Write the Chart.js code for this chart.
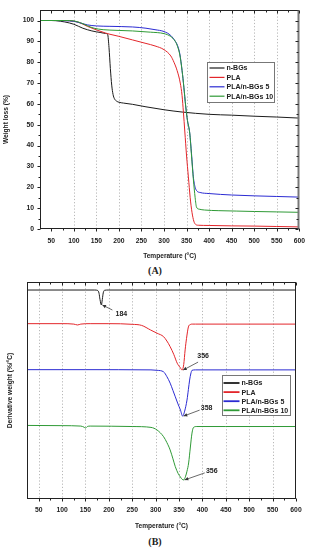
<!DOCTYPE html>
<html><head><meta charset="utf-8">
<script src="https://cdn.jsdelivr.net/npm/chart.js@4/dist/chart.umd.min.js"></script>
<style>
body{margin:0;width:313px;height:550px;background:#fff;position:relative;overflow:hidden}
canvas{position:absolute;left:0}
#ca{top:0}
#cb{top:275px}
.cap{position:absolute;left:0;width:310px;text-align:center;font:bold 10px "Liberation Serif","Times New Roman",serif;color:#222}
</style></head><body>
<canvas id="ca" width="313" height="262"></canvas>
<div class="cap" style="top:265px">(A)</div>
<canvas id="cb" width="313" height="260"></canvas>
<div class="cap" style="top:536px">(B)</div>
<script>
// ---------- data ----------
const xTickLabels = [50,100,150,200,250,300,350,400,450,500,550,600];
const tgaYTicks = [0,10,20,30,40,50,60,70,80,90,100];
const seriesNames = ['n-BGs','PLA','PLA/n-BGs 5','PLA/n-BGs 10'];
const seriesColors = ['#1c1c1c','#e3262b','#2b2bd2','#2f9a36'];

// TGA (A): temperature (°C) and weight (%)
const tgaT_nBGs = [25,50,60,80,100,120,140,160,170,175,178,181,184,187,190,195,200,210,230,260,300,340,400,450,500,550,600];
const tgaW_nBGs = [100,100,99.9,99.3,98.2,96.3,95,94.2,93.8,93.3,87,77,69,64.5,62.5,61.3,60.8,60.4,59.8,58.6,57.2,56.1,55,54.6,54.1,53.7,53.2];
const tgaT_PLA = [25,60,90,110,130,150,170,180,200,230,260,280,300,315,322,329,336,340,343,346,350,354,358,362,366,370,376,400,450,500,550,600];
const tgaW_PLA = [100,100,99.9,99.2,97.2,95.5,94,93.4,92.4,90.7,89,87.8,86,83,80,76,70,64,56,47,35,25,15,8,3.8,2.2,1.8,1.7,1.5,1.4,1.2,1.0];
const tgaT_PLA5 = [25,60,80,100,115,130,150,180,230,260,280,300,315,325,330,335,340,344,348,352,357,361,365,369,373,380,400,450,500,550,600];
const tgaW_PLA5 = [100,100,99.9,99.6,98.8,97.9,97.4,97.2,96.9,96.3,95.6,94.7,92.8,90,88,84,76,68,59,52,46,36,25,20,18.2,17.5,17,16.3,15.9,15.6,15.3];
const tgaT_PLA10 = [25,80,100,115,130,145,165,180,230,270,300,315,325,330,335,340,344,348,352,357,361,365,369,372,378,390,420,460,500,550,600];
const tgaW_PLA10 = [100,100,99.8,98.9,97.5,96.3,95.6,95.4,95,94.4,93.7,92.3,90,87.5,83.5,76,68,59,52,46,35,24,15,10.5,9.5,9.1,8.8,8.6,8.4,8.2,8.0];

// DTG (B): temperature (°C) and derivative weight (stacked, arbitrary units)
const dtgT_nBGs = [25,100,150,170,176,179,181,184,186,188,191,200,300,400,500,600];
const dtgV_nBGs = [96.3,96.3,96.3,96.3,96.1,94.8,92,89.4,92,95,96.2,96.3,96.3,96.3,96.3,96.3];
const dtgT_PLA = [25,100,125,133,140,160,200,250,270,289,303,317,324,331,339,346,353,356.5,360,363,366,370,374,378,385,450,600];
const dtgV_PLA = [80.8,80.8,80.6,80.2,80.6,80.8,80.8,80.5,80,77.9,76.4,74.8,72.8,70.2,66.5,62.6,60.4,59.4,62,68.7,74,79.3,80.4,80.6,80.6,80.6,80.6];
const dtgT_PLA5 = [25,150,290,303,317,324,331,337,342,347,353,357.7,362,367,370,372.6,375,377.7,385,600];
const dtgV_PLA5 = [59.6,59.6,59.5,59.3,58.6,56.4,53.4,50,47.1,44.2,41,38.2,40.5,45.6,50.5,54.8,57.6,59.3,59.5,59.5];
const dtgT_PLA10 = [25,100,140,147,150,154,160,250,290,303,317,324,331,337,342,348,353,356.5,360,364,367,370.5,374,377.7,381,388,450,600];
const dtgV_PLA10 = [33.9,33.8,33.6,33.1,32.7,33.4,33.6,33.4,33,31.8,28.7,26,22.6,18.5,14.9,11.8,10.1,9.1,8.8,10.5,12.8,16.6,23.5,30.4,33,33.4,33.4,33.4];
const dtgPeakLabels = ['184','356','358','356'];

// ---------- helpers ----------
const pts = (T, V) => T.map((t, i) => ({x: t, y: V[i]}));
const FONT = '"Liberation Sans", Arial, sans-serif';
Chart.defaults.font.family = FONT;
Chart.defaults.font.weight = 'bold';
Chart.defaults.color = '#222';

const minorOf = arr => arr.slice(0, -1).map((v, i) => (v + arr[i + 1]) / 2);

const frame = {
  id: 'frame',
  beforeDatasetsDraw(chart, args, o) {
    const {ctx, chartArea: a, scales: {x}} = chart;
    ctx.save();
    ctx.strokeStyle = '#b8b8b8'; ctx.lineWidth = 1; ctx.setLineDash([1.2, 2]);
    xTickLabels.filter(v => v >= o.gridFrom).forEach(v => {
      const px = Math.round(x.getPixelForValue(v)) + 0.5;
      if (px > a.left + 2 && px < a.right - 2) { ctx.beginPath(); ctx.moveTo(px, a.top); ctx.lineTo(px, a.bottom); ctx.stroke(); }
    });
    ctx.restore();
  },
  afterDatasetsDraw(chart, args, o) {
    const {ctx, chartArea: a, scales: {x, y}} = chart;
    const L = (x1, y1, x2, y2) => { ctx.beginPath(); ctx.moveTo(x1, y1); ctx.lineTo(x2, y2); ctx.stroke(); };
    ctx.save();
    ctx.strokeStyle = '#222'; ctx.lineWidth = 1;
    const l = Math.round(a.left) + 0.5, r = Math.round(a.right) - 0.5, t = Math.round(a.top) + 0.5, b = Math.round(a.bottom) - 0.5;
    ctx.strokeRect(l, t, r - l, b - t);
    if (o.thickRight) { ctx.strokeStyle = '#777'; ctx.lineWidth = 2; L(r, t, r, b); ctx.strokeStyle = '#222'; ctx.lineWidth = 1; }
    xTickLabels.forEach(v => { const px = Math.round(x.getPixelForValue(v)) + 0.5; L(px, b, px, b + 3); L(px, t, px, t + 3); });
    minorOf(xTickLabels).concat([25]).forEach(v => { const px = Math.round(x.getPixelForValue(v)) + 0.5; if (px > l + 1) { L(px, b, px, b + 2); L(px, t, px, t + 2); } });
    if (o.yTicks) {
      o.yTicks.forEach(v => { const py = Math.round(y.getPixelForValue(v)) + 0.5; L(l, py, l - 3, py); L(r, py, r - 3, py); });
      minorOf(o.yTicks).forEach(v => { const py = Math.round(y.getPixelForValue(v)) + 0.5; L(l, py, l - 2, py); L(r, py, r - 2, py); });
    }
    ctx.restore();
  }
};

const boxLegend = {
  id: 'boxLegend',
  afterDraw(chart, args, o) {
    const {ctx, chartArea: a} = chart;
    const x0 = Math.round(a.right - o.right - o.w) + 0.5, y0 = Math.round(a.top + o.top) + 0.5;
    ctx.save();
    ctx.fillStyle = '#fff'; ctx.fillRect(x0, y0, o.w, o.h);
    ctx.strokeStyle = '#777'; ctx.lineWidth = 1; ctx.strokeRect(x0, y0, o.w, o.h);
    ctx.font = 'bold ' + o.fs + 'px ' + FONT; ctx.textBaseline = 'middle'; ctx.textAlign = 'left';
    chart.data.datasets.forEach((ds, i) => {
      const yy = y0 + o.first + i * o.gap;
      ctx.strokeStyle = ds.borderColor; ctx.lineWidth = o.lw;
      ctx.beginPath(); ctx.moveTo(x0 + o.pad, yy); ctx.lineTo(x0 + o.pad + o.len, yy); ctx.stroke();
      ctx.fillStyle = '#222'; ctx.fillText(ds.label, x0 + o.pad + o.len + 2, yy + 0.5);
    });
    ctx.restore();
  }
};

const peakLabels = {
  id: 'peakLabels',
  afterDatasetsDraw(chart, args, o) {
    if (!o.offsets) return;
    const {ctx, scales: {x, y}} = chart;
    ctx.save();
    ctx.font = 'bold 7px ' + FONT; ctx.textAlign = 'center'; ctx.textBaseline = 'middle';
    chart.data.datasets.forEach((ds, k) => {
      const m = ds.data.reduce((p, q) => q.y < p.y ? q : p);
      const px = x.getPixelForValue(m.x) + 1, py = y.getPixelForValue(m.y);
      const [lx, ly, tx, ty] = o.offsets[k];
      const sx = px + lx, sy = py + ly;
      ctx.strokeStyle = '#444'; ctx.fillStyle = '#333'; ctx.lineWidth = 0.8;
      ctx.beginPath(); ctx.moveTo(sx, sy); ctx.lineTo(px, py); ctx.stroke();
      const ang = Math.atan2(sy - py, sx - px), h = 4;
      ctx.beginPath(); ctx.moveTo(px, py);
      ctx.lineTo(px + h * Math.cos(ang - 0.45), py + h * Math.sin(ang - 0.45));
      ctx.lineTo(px + h * Math.cos(ang + 0.45), py + h * Math.sin(ang + 0.45));
      ctx.closePath(); ctx.fill();
      ctx.fillStyle = '#222';
      ctx.fillText(dtgPeakLabels[k], px + tx, py + ty);
    });
    ctx.restore();
  }
};

function datasets(list) {
  return list.map((d, i) => ({
    label: seriesNames[i], data: d, borderColor: seriesColors[i], borderWidth: 1,
    pointRadius: 0, fill: false, cubicInterpolationMode: 'monotone', order: 4 - i
  }));
}
const useTicks = vals => scale => { scale.ticks = vals.map(v => ({value: v})); };

function xScale(height, labelPad, titlePadBottom) {
  return {
    type: 'linear', min: 25, max: 600,
    afterBuildTicks: useTicks(xTickLabels),
    afterFit: s => { s.height = height; },
    grid: {display: false, drawTicks: false}, border: {display: false},
    ticks: {padding: labelPad, autoSkip: false, maxRotation: 0, font: {size: 6.8, weight: 'bold'}, color: '#222'},
    title: {display: true, text: 'Temperature (°C)', font: {size: 6.6, weight: 'bold'}, color: '#222', padding: {top: 0, bottom: titlePadBottom}}
  };
}

new Chart(document.getElementById('ca'), {
  type: 'line',
  data: {datasets: datasets([pts(tgaT_nBGs, tgaW_nBGs), pts(tgaT_PLA, tgaW_PLA), pts(tgaT_PLA5, tgaW_PLA5), pts(tgaT_PLA10, tgaW_PLA10)])},
  options: {
    responsive: false, animation: false, events: [],
    layout: {padding: {top: 5, right: 8, left: 0, bottom: 0}},
    scales: {
      x: xScale(33, 8, 2),
      y: {
        type: 'linear', min: 0, max: 105,
        afterBuildTicks: useTicks(tgaYTicks),
        afterFit: s => { s.width = 40; },
        grid: {display: false, drawTicks: false}, border: {display: false},
        ticks: {padding: 6, autoSkip: false, font: {size: 6.8, weight: 'bold'}, color: '#222'},
        title: {display: true, text: 'Weight loss (%)', font: {size: 6.6, weight: 'bold'}, color: '#222', padding: {top: 2, bottom: 0}}
      }
    },
    plugins: {
      legend: {display: false}, tooltip: {enabled: false},
      frame: {yTicks: tgaYTicks, thickRight: true, gridFrom: 100},
      boxLegend: {right: 25, top: 52, w: 67, h: 40, first: 5.5, gap: 9.4, pad: 2, len: 15, lw: 1.2, fs: 7}
    }
  },
  plugins: [frame, boxLegend]
});

new Chart(document.getElementById('cb'), {
  type: 'line',
  data: {datasets: datasets([pts(dtgT_nBGs, dtgV_nBGs), pts(dtgT_PLA, dtgV_PLA), pts(dtgT_PLA5, dtgV_PLA5), pts(dtgT_PLA10, dtgV_PLA10)])},
  options: {
    responsive: false, animation: false, events: [],
    layout: {padding: {top: 7, right: 17, left: 0, bottom: 0}},
    scales: {
      x: xScale(36, 7, 5),
      y: {
        type: 'linear', min: 0, max: 100,
        afterFit: s => { s.width = 27; },
        grid: {display: false, drawTicks: false}, border: {display: false},
        ticks: {display: false},
        title: {display: true, text: 'Derivative weight (%/°C)', font: {size: 6.6, weight: 'bold'}, color: '#222', padding: {top: 6, bottom: 0}}
      }
    },
    plugins: {
      legend: {display: false}, tooltip: {enabled: false},
      frame: {gridFrom: 50},
      boxLegend: {right: 6, top: 93, w: 68, h: 40, first: 7.5, gap: 9.1, pad: 1, len: 16, lw: 1.8, fs: 7},
      peakLabels: {offsets: [[10, 5, 19, 9], [15, -8, 20, -14], [16, -6, 23, -8], [20, -7, 27, -9]]}
    }
  },
  plugins: [frame, boxLegend, peakLabels]
});
</script>
</body></html>
